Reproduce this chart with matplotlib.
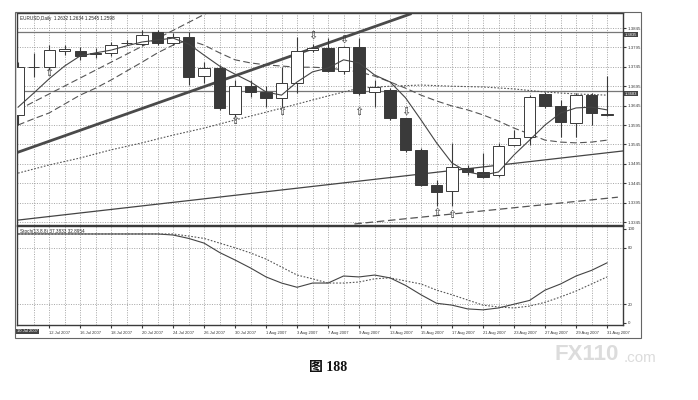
import matplotlib
matplotlib.use("Agg")
import matplotlib.pyplot as plt
from matplotlib.patches import Rectangle

# daily EURUSD bars, 10 Jul 2007 .. 31 Aug 2007
dates = ["10 Jul 2007", "11 Jul 2007", "12 Jul 2007", "13 Jul 2007", "16 Jul 2007", "17 Jul 2007",
         "18 Jul 2007", "19 Jul 2007", "20 Jul 2007", "23 Jul 2007", "24 Jul 2007", "25 Jul 2007",
         "26 Jul 2007", "27 Jul 2007", "30 Jul 2007", "31 Jul 2007", "1 Aug 2007", "2 Aug 2007",
         "3 Aug 2007", "6 Aug 2007", "7 Aug 2007", "8 Aug 2007", "9 Aug 2007", "10 Aug 2007",
         "13 Aug 2007", "14 Aug 2007", "15 Aug 2007", "16 Aug 2007", "17 Aug 2007", "20 Aug 2007",
         "21 Aug 2007", "22 Aug 2007", "23 Aug 2007", "24 Aug 2007", "27 Aug 2007", "28 Aug 2007",
         "29 Aug 2007", "30 Aug 2007", "31 Aug 2007"]
opens = [1.3621, 1.3744, 1.3745, 1.3786, 1.3786, 1.3778, 1.3781, 1.3806, 1.3804, 1.3835,
         1.3806, 1.3822, 1.3721, 1.3742, 1.3623, 1.3696, 1.3680, 1.3665, 1.3703, 1.3788,
         1.3794, 1.3734, 1.3796, 1.3680, 1.3685, 1.3613, 1.3531, 1.3440, 1.3425, 1.3484,
         1.3474, 1.3466, 1.3544, 1.3564, 1.3675, 1.3644, 1.3600, 1.3672, 1.3623]
highs = [1.3757, 1.3781, 1.3801, 1.3800, 1.3796, 1.3794, 1.3809, 1.3815, 1.3840, 1.3840,
         1.3832, 1.3835, 1.3757, 1.3750, 1.3711, 1.3711, 1.3696, 1.3745, 1.3822, 1.3804,
         1.3819, 1.3799, 1.3819, 1.3711, 1.3690, 1.3613, 1.3536, 1.3453, 1.3549, 1.3492,
         1.3523, 1.3549, 1.3582, 1.3672, 1.3680, 1.3659, 1.3677, 1.3677, 1.3721]
lows = [1.3595, 1.3719, 1.3737, 1.3775, 1.3763, 1.3767, 1.3773, 1.3800, 1.3799, 1.3801,
        1.3801, 1.3698, 1.3703, 1.3634, 1.3616, 1.3667, 1.3641, 1.3641, 1.3678, 1.3783,
        1.3732, 1.3727, 1.3672, 1.3641, 1.3608, 1.3525, 1.3438, 1.3385, 1.3385, 1.3466,
        1.3458, 1.3461, 1.3541, 1.3544, 1.3639, 1.3564, 1.3564, 1.3595, 1.3618]
closes = [1.3745, 1.3745, 1.3788, 1.3790, 1.3773, 1.3781, 1.3801, 1.3807, 1.3827, 1.3806,
          1.3822, 1.3719, 1.3742, 1.3639, 1.3696, 1.3680, 1.3665, 1.3703, 1.3786, 1.3794,
          1.3734, 1.3796, 1.3678, 1.3693, 1.3613, 1.3531, 1.3440, 1.3422, 1.3487, 1.3474,
          1.3461, 1.3541, 1.3562, 1.3667, 1.3644, 1.3603, 1.3672, 1.3626, 1.3621]

# moving averages
ma_fast = [1.3641, 1.3677, 1.3714, 1.3747, 1.3773, 1.3781, 1.3788, 1.3799, 1.3809, 1.3814,
           1.3819, 1.3804, 1.3775, 1.3747, 1.3726, 1.3706, 1.3680, 1.3672, 1.3706, 1.3732,
           1.3742, 1.3763, 1.3755, 1.3724, 1.3706, 1.3665, 1.3608, 1.3549, 1.3497, 1.3474,
           1.3466, 1.3474, 1.3518, 1.3556, 1.3595, 1.3626, 1.3639, 1.3641, 1.3634]
ma_mid = [1.3595, 1.3611, 1.3626, 1.3649, 1.3672, 1.3690, 1.3711, 1.3734, 1.3757, 1.3781,
          1.3801, 1.3814, 1.3801, 1.3781, 1.3763, 1.3755, 1.3750, 1.3747, 1.3744, 1.3744,
          1.3742, 1.3737, 1.3732, 1.3721, 1.3706, 1.3690, 1.3672, 1.3657, 1.3644, 1.3634,
          1.3621, 1.3605, 1.3587, 1.3572, 1.3556, 1.3551, 1.3549, 1.3551, 1.3556]
ma_slow_idx = [0, 2, 4, 6, 8, 10, 12, 14, 16, 18, 20, 22, 24, 26, 28, 30, 32, 34, 36, 38]
ma_slow = [1.3471, 1.3492, 1.3510, 1.3531, 1.3549, 1.3569, 1.3587, 1.3608, 1.3628, 1.3649,
           1.3670, 1.3690, 1.3695, 1.3698, 1.3695, 1.3693, 1.3688, 1.3680, 1.3675, 1.3672]

# trend lines (bar index, price)
trend_thick = ([0, 25.3], [1.3525, 1.3881])
trend_dash_up = ([0, 12.3], [1.3634, 1.3886])
trend_low = ([0, 39], [1.3350, 1.3528])
trend_low_dash = ([21.7, 38.7], [1.3340, 1.3409])
levels = [1.3835, 1.3683]

# fractal arrows
up_idx = [2, 14, 17, 22, 27, 28]
up_px = [1.3729, 1.3605, 1.3629, 1.3629, 1.3368, 1.3363]
dn_idx = [19, 21, 25]
dn_px = [1.3824, 1.3814, 1.3629]

# stochastic (main / signal)
stoch_main = [94.7, 94.7, 94.7, 94.7, 94.7, 94.7, 94.7, 94.7, 94.7, 94.7, 93.6, 90, 85, 75, 67,
              58.5, 49, 42.5, 38, 42.5, 42.5, 50, 49, 51, 48, 40, 30, 21, 19, 15, 14, 16, 20,
              24, 35, 41.5, 50, 56, 64]
stoch_sig = [94.7, 94.7, 94.7, 94.7, 94.7, 94.7, 94.7, 94.7, 94.7, 94.7, 94.7, 92.5, 90, 85, 80,
             74.5, 68, 59.5, 51, 47, 42.5, 42.5, 43.6, 47, 48, 44.7, 41.5, 35, 30, 24.5, 19, 17,
             16, 18, 22, 27.7, 34, 41.5, 49]

price_ticks = [1.3845, 1.3795, 1.3745, 1.3695, 1.3645, 1.3595, 1.3545, 1.3495, 1.3445, 1.3395, 1.3345]
stoch_ticks = [100, 80, 20, 0]

W, H = 698, 400
def fx(p):
    return p / W
def fy(p):
    return 1 - p / H

dark = "#3a3a3a"
small = "Liberation Sans"
fig = plt.figure(figsize=(W / 100, H / 100), dpi=100)
ax = fig.add_axes([fx(17), fy(225), fx(623) - fx(17), fy(13) - fy(225)])
ax2 = fig.add_axes([fx(17), fy(325), fx(623) - fx(17), fy(226) - fy(325)])

n = len(opens)
xs = list(range(n))
for a in (ax, ax2):
    a.set_xlim(-0.07, 39.03)
    for i in xs[1:]:
        a.axvline(i, color="#888888", lw=0.5, ls=(0, (1.5, 2)), zorder=0)
    for s in a.spines.values():
        s.set_color(dark)
        s.set_linewidth(1.0)

ax.set_ylim(1.33373, 1.38837)
for p in price_ticks:
    ax.axhline(p, color="#888888", lw=0.5, ls=(0, (1.5, 2)), zorder=0)
for p in levels:
    ax.axhline(p, color="#777777", lw=0.9, zorder=1)

# candles
for i in xs:
    o, h, l, c = opens[i], highs[i], lows[i], closes[i]
    ax.vlines(i, l, h, color=dark, lw=0.8, zorder=3)
    up = c >= o
    lo, hi = min(o, c), max(o, c)
    ax.bar(i, max(hi - lo, 0.00004), bottom=lo, width=0.72,
           color="white" if up else dark, edgecolor=dark, lw=0.7, zorder=4)

ax.plot(xs, ma_fast, color="#444444", lw=0.8, zorder=5)
ax.plot(xs, ma_mid, color="#555555", lw=0.8, ls=(0, (6, 3)), zorder=2)
ax.plot(ma_slow_idx, ma_slow, color="#555555", lw=0.8, ls=(0, (1.5, 1.5)), zorder=2)
ax.plot(trend_thick[0], trend_thick[1], color="#4a4a4a", lw=2.0, zorder=2)
ax.plot(trend_dash_up[0], trend_dash_up[1], color="#555555", lw=0.8, ls=(0, (6, 3)), zorder=2)
ax.plot(trend_low[0], trend_low[1], color="#444444", lw=0.9, zorder=2)
ax.plot(trend_low_dash[0], trend_low_dash[1], color="#555555", lw=0.9, ls=(0, (6, 3)), zorder=2)

for i, p in zip(up_idx, up_px):
    ax.text(i, p, "\u21e7", ha="center", va="center", fontsize=8, color=dark, zorder=6)
for i, p in zip(dn_idx, dn_px):
    ax.text(i, p, "\u21e9", ha="center", va="center", fontsize=8, color=dark, zorder=6)

ax.yaxis.tick_right()
ax.set_yticks(price_ticks)
ax.set_yticklabels([f"{p:.4f}" for p in price_ticks], family=small)
ax.tick_params(axis="y", labelsize=3.2, length=2, pad=1.5, colors=dark)
ax.set_xticks([])
for p in levels:
    ax.text(1.003, p - 0.0002, f"{p:.4f}", transform=ax.get_yaxis_transform(), fontsize=3.0,
            family=small, color="white", va="top", ha="left",
            bbox=dict(boxstyle="square,pad=0.15", fc="#444444", ec="none"))
ax.text(0.005, 0.985, "EURUSD,Daily  1.2632 1.2634 1.2545 1.2598", transform=ax.transAxes,
        fontsize=3.3, family=small, va="top", ha="left", color="#222222")

# stochastic panel
ax2.set_ylim(-2.13, 103.19)
for v in (80, 20):
    ax2.axhline(v, color="#888888", lw=0.5, ls=(0, (1.5, 2)), zorder=0)
ax2.plot(xs, stoch_main, color="#444444", lw=0.8)
ax2.plot(xs, stoch_sig, color="#555555", lw=0.8, ls=(0, (1.5, 1.5)))
ax2.yaxis.tick_right()
ax2.set_yticks(stoch_ticks)
ax2.set_yticklabels([str(v) for v in stoch_ticks], family=small)
ax2.tick_params(axis="y", labelsize=3.2, length=2, pad=1.5, colors=dark)
ax2.text(0.005, 0.97, "Stoch(13,8,8) 37.3833 32.8954", transform=ax2.transAxes,
         fontsize=3.3, family=small, va="top", ha="left", color="#222222")
tick_idx = xs[2::2]
ax2.set_xticks(tick_idx)
ax2.set_xticklabels([dates[i] for i in tick_idx], ha="left", family=small)
ax2.tick_params(axis="x", labelsize=3.0, length=2, pad=2, colors=dark)
ax2.text(0.0, -0.045, dates[0], transform=ax2.transAxes, fontsize=3.0, family=small,
         color="white", va="top", ha="left",
         bbox=dict(boxstyle="square,pad=0.2", fc="#444444", ec="none"))

# outer frame of the terminal window
fig.patches.append(Rectangle((fx(15), fy(338)), fx(641) - fx(15), fy(12) - fy(338),
                             transform=fig.transFigure, fill=False, ec="#666666", lw=0.8))

fig.text(fx(328), fy(367), "图 188", ha="center", va="center", fontsize=10, fontweight="bold",
         family=["Liberation Serif", "Noto Sans CJK SC"], color="#111111")
fig.text(fx(555), fy(355), "FX110", ha="left", va="center", fontsize=16, fontweight="bold",
         family="Liberation Sans", color="#dcdcdc")
fig.text(fx(624), fy(358), ".com", ha="left", va="center", fontsize=11,
         family="Liberation Sans", color="#dcdcdc")

fig.savefig("out.png", dpi=100)
